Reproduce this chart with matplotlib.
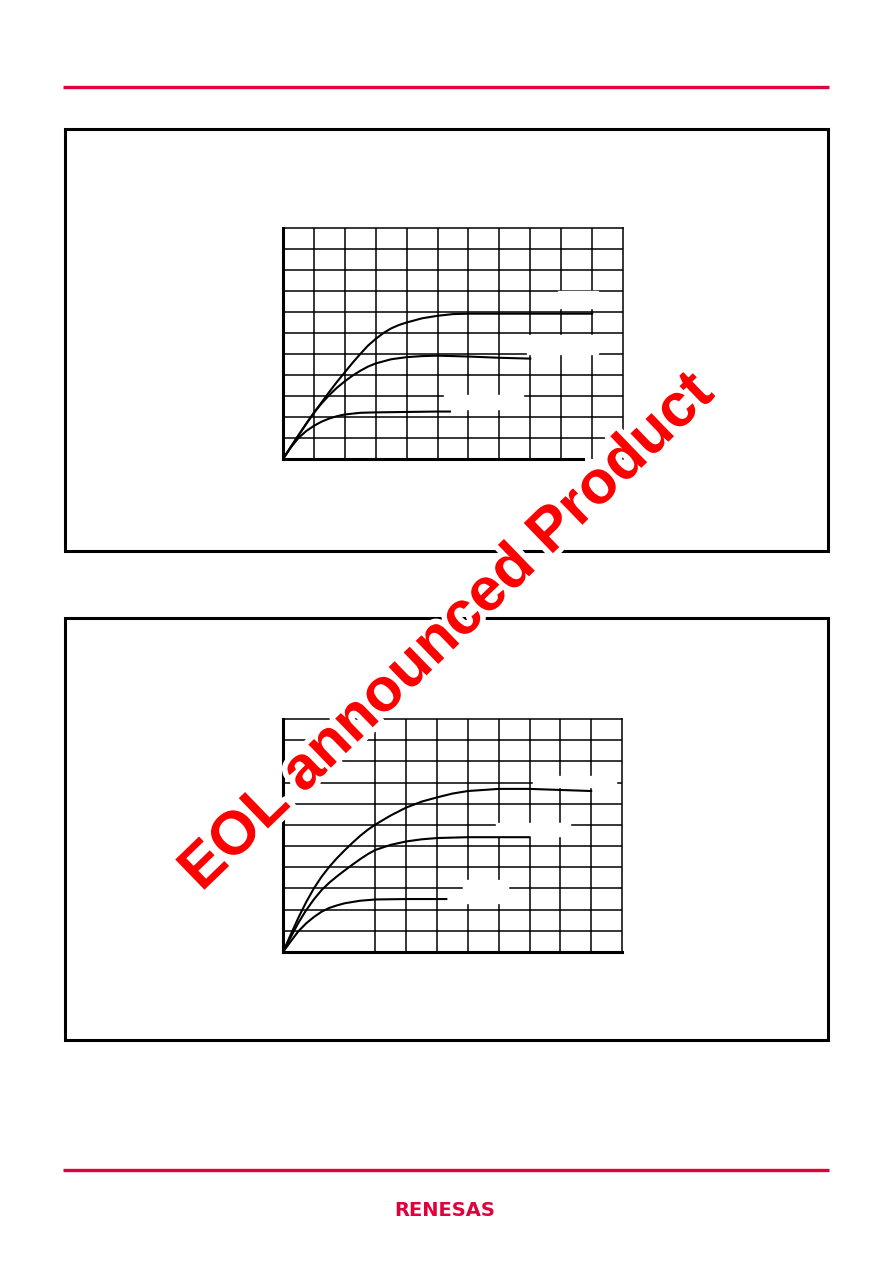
import numpy as np
import matplotlib.pyplot as plt
import matplotlib.patheffects as pe
from matplotlib.patches import Rectangle

# --- page size (pixels) ---
W, H = 892, 1263
RED = "#e0003c"

# --- upper chart curves (grid units: 11 x 11 divisions) ---
top_x1 = [0, 0.25, 0.5, 0.75, 1, 1.25, 1.5, 1.75, 2, 2.25, 2.5, 2.75, 3, 3.25, 3.5,
          3.75, 4, 4.5, 5, 5.5, 6, 10]
top_y1 = [0, 0.57, 1.13, 1.68, 2.2, 2.7, 3.2, 3.68, 4.13, 4.58, 5.0, 5.4, 5.72, 6.0, 6.22,
          6.38, 6.5, 6.7, 6.82, 6.9, 6.92, 6.92]
top_x2 = [0, 0.25, 0.5, 0.75, 1, 1.25, 1.5, 1.75, 2, 2.25, 2.5, 2.75, 3, 3.5, 4, 4.5, 5,
          6, 7, 8]
top_y2 = [0, 0.56, 1.12, 1.67, 2.2, 2.65, 3.05, 3.4, 3.7, 3.97, 4.2, 4.4, 4.55, 4.75, 4.85,
          4.9, 4.92, 4.88, 4.82, 4.78]
top_x3 = [0, 0.25, 0.5, 0.75, 1, 1.25, 1.5, 1.75, 2, 2.5, 3, 4, 5, 5.4]
top_y3 = [0, 0.55, 1.0, 1.33, 1.58, 1.78, 1.93, 2.04, 2.12, 2.2, 2.22, 2.24, 2.26, 2.26]

# --- lower chart curves ---
bot_x1 = [0, 0.25, 0.5, 0.75, 1, 1.25, 1.5, 1.75, 2, 2.25, 2.5, 2.75, 3, 3.5, 4, 4.5, 5,
          5.5, 6, 7, 8, 9, 10]
bot_y1 = [0, 0.82, 1.62, 2.35, 3.0, 3.55, 4.02, 4.43, 4.8, 5.15, 5.48, 5.77, 6.02, 6.45,
          6.82, 7.1, 7.3, 7.48, 7.6, 7.7, 7.7, 7.65, 7.6]
bot_x2 = [0, 0.25, 0.5, 0.75, 1, 1.25, 1.5, 1.75, 2, 2.25, 2.5, 2.75, 3, 3.5, 4, 4.5, 5,
          6, 7, 8]
bot_y2 = [0, 0.7, 1.38, 1.97, 2.48, 2.92, 3.27, 3.57, 3.85, 4.12, 4.38, 4.62, 4.82, 5.06,
          5.22, 5.32, 5.38, 5.42, 5.42, 5.42]
bot_x3 = [0, 0.25, 0.5, 0.75, 1, 1.25, 1.5, 1.75, 2, 2.5, 3, 4, 5, 5.3]
bot_y3 = [0, 0.5, 0.98, 1.35, 1.65, 1.9, 2.08, 2.2, 2.3, 2.42, 2.48, 2.5, 2.5, 2.5]

# grid positions (lower chart has two columns missing near the axis)
top_vgrid = list(range(1, 11))
bot_vgrid = [3, 4, 5, 6, 7, 8, 9, 10]
hgrid = list(range(1, 11))

# white boxes where the (blank) curve labels sit: x0, x1, y0, y1
top_labels = [(8.9, 10.2, 7.2, 8.0), (7.9, 10.2, 5.0, 5.9), (5.2, 7.75, 2.4, 3.05)]
bot_labels = [(8.1, 10.8, 7.8, 8.3), (6.9, 9.3, 5.5, 6.1), (5.85, 7.3, 2.3, 3.4)]

fig = plt.figure(figsize=(W / 100, H / 100), dpi=100)

# page layer in pixel coordinates
bg = fig.add_axes([0, 0, 1, 1])
bg.set_xlim(0, W)
bg.set_ylim(H, 0)
bg.axis("off")
bg.plot([63, 829], [87, 87], color=RED, lw=2.4, solid_capstyle="butt")
bg.plot([63, 829], [1170, 1170], color=RED, lw=2.4, solid_capstyle="butt")
for y0, y1 in [(129, 551), (618, 1040)]:
    bg.add_patch(Rectangle((65, y0), 828 - 65, y1 - y0, fill=False,
                           ec="black", lw=2.2))
bg.text(445, 1211, "RENESAS", color=RED, fontsize=14, ha="center",
        va="center", family="DejaVu Sans", fontweight="bold")


def chart(rect, curves, vgrid, labels, bottom_end):
    left, top, right, bottom = rect
    ax = fig.add_axes([left / W, 1 - bottom / H, (right - left) / W, (bottom - top) / H])
    ax.set_xlim(0, 11)
    ax.set_ylim(0, 11)
    ax.set_facecolor("none")
    for v in vgrid:
        ax.axvline(v, color="black", lw=1.1, zorder=1)
    for h in hgrid:
        ax.axhline(h, color="black", lw=1.1, zorder=1)
    for x0, x1, y0, y1 in labels:
        ax.add_patch(Rectangle((x0, y0), x1 - x0, y1 - y0, color="white",
                               zorder=1.5, clip_on=False))
    for xs, ys in curves:
        ax.plot(xs, ys, color="black", lw=1.5, zorder=3)
    ax.spines["left"].set_linewidth(2.2)
    ax.spines["bottom"].set_linewidth(2.2)
    ax.spines["bottom"].set_bounds(0, bottom_end)
    ax.spines["top"].set_linewidth(1.1)
    ax.spines["right"].set_linewidth(1.1)
    ax.set_xticks([])
    ax.set_yticks([])
    return ax


chart((283, 228, 623, 459),
      [(top_x1, top_y1), (top_x2, top_y2), (top_x3, top_y3)],
      top_vgrid, top_labels, 9.7)
chart((283, 719, 622, 952),
      [(bot_x1, bot_y1), (bot_x2, bot_y2), (bot_x3, bot_y3)],
      bot_vgrid, bot_labels, 11)

# EOL watermark
fig.text(448 / W, 1 - 633 / H, "EOL announced Product", color="#ff0000",
         fontsize=44, fontweight="bold", family="Liberation Sans",
         rotation=44, ha="center", va="center", zorder=10,
         path_effects=[pe.withStroke(linewidth=8, foreground="white")])

fig.savefig("out.png", dpi=100)
